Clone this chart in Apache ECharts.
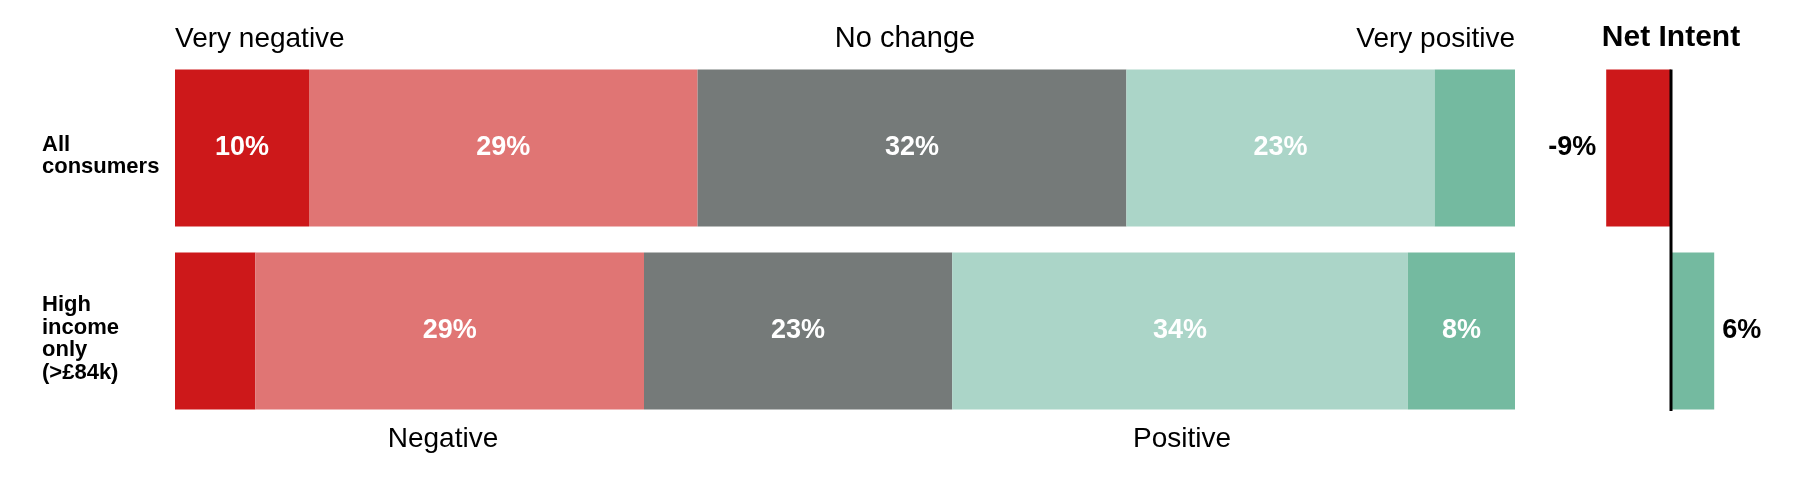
<!DOCTYPE html>
<html>
<head>
<meta charset="utf-8">
<script src="https://cdn.jsdelivr.net/npm/echarts@6/dist/echarts.min.js"></script>
<style>
  html, body { margin: 0; padding: 0; background: #fff; }
  #chart { width: 1800px; height: 495px; }
</style>
</head>
<body>
<div id="chart"></div>
<script>
// rows
const categories = ['All\nconsumers', 'High\nincome\nonly\n(>£84k)'];

// share of answers, %
const veryNegative = [10, 6];
const negative = [29, 29];
const noChange = [32, 23];
const positive = [23, 34];
const veryPositive = [6, 8];

// net intent, %
const netIntent = [-9, 6];

const FONT = '"Liberation Sans", Arial, sans-serif';
const BAR_W = 157;

const colors = {
    veryNegative: '#CD181A',
    negative: '#E07574',
    noChange: '#757A79',
    positive: '#ABD5C8',
    veryPositive: '#74BAA0'
};

// small segments get no label
function withLabels(values) {
    return values.map(v => ({ value: v, label: { show: v >= 7 } }));
}

function stackSeries(name, values, color) {
    return {
        name: name,
        type: 'bar',
        stack: 'total',
        xAxisIndex: 0,
        yAxisIndex: 0,
        barWidth: BAR_W,
        data: withLabels(values),
        itemStyle: { color: color },
        label: {
            position: 'inside',
            formatter: '{c}%',
            color: '#fff',
            fontFamily: FONT,
            fontWeight: 'bold',
            fontSize: 27
        },
        emphasis: { disabled: true }
    };
}

const chart = echarts.init(document.getElementById('chart'));

chart.setOption({
    animation: false,
    grid: [
        { left: 175, right: 285, top: 56.5, height: 366 },
        { left: 1599, width: 144, top: 56.5, height: 366 }
    ],
    xAxis: [
        { type: 'value', gridIndex: 0, min: 0, max: 100, show: false },
        { type: 'value', gridIndex: 1, min: -10, max: 10, show: false }
    ],
    yAxis: [
        {
            type: 'category',
            gridIndex: 0,
            data: categories,
            inverse: true,
            axisLine: { show: false },
            axisTick: { show: false },
            axisLabel: {
                align: 'left',
                margin: 133,
                color: '#000',
                fontFamily: FONT,
                fontWeight: 'bold',
                fontSize: 22,
                lineHeight: 22.5,
                // empty first line pushes the block a little lower
                formatter: v => '{gap| }\n' + v,
                rich: { gap: { fontSize: 1, lineHeight: 16 } }
            }
        },
        { type: 'category', gridIndex: 1, data: categories, inverse: true, show: false }
    ],
    series: [
        stackSeries('Very negative', veryNegative, colors.veryNegative),
        stackSeries('Negative', negative, colors.negative),
        stackSeries('No change', noChange, colors.noChange),
        stackSeries('Positive', positive, colors.positive),
        stackSeries('Very positive', veryPositive, colors.veryPositive),
        {
            name: 'Net Intent',
            type: 'bar',
            xAxisIndex: 1,
            yAxisIndex: 1,
            barWidth: BAR_W,
            data: netIntent.map(v => ({
                value: v,
                itemStyle: { color: v < 0 ? colors.veryNegative : colors.veryPositive },
                label: { position: v < 0 ? 'left' : 'right', distance: v < 0 ? 10 : 8 }
            })),
            label: {
                show: true,
                formatter: '{c}%',
                color: '#000',
                fontFamily: FONT,
                fontWeight: 'bold',
                fontSize: 27
            },
            emphasis: { disabled: true }
        }
    ]
});

// zero line of the net panel + header / footer texts
const zeroX = chart.convertToPixel({ xAxisIndex: 1 }, 0);
const topY = chart.convertToPixel({ yAxisIndex: 1 }, categories[0]) - BAR_W / 2;
const botY = chart.convertToPixel({ yAxisIndex: 1 }, categories[1]) + BAR_W / 2 + 1.5;

function txt(text, x, y, align, extra) {
    return {
        type: 'text',
        x: x,
        y: y,
        z: 100,
        style: Object.assign({
            text: text,
            fill: '#000',
            fontFamily: FONT,
            fontSize: 28,
            align: align,
            verticalAlign: 'middle'
        }, extra || {})
    };
}

chart.setOption({
    graphic: [
        {
            type: 'line',
            z: 100,
            shape: { x1: zeroX, y1: topY, x2: zeroX, y2: botY },
            style: { stroke: '#000', lineWidth: 3 }
        },
        txt('Very negative', 175, 39, 'left'),
        txt('No change', 905, 39, 'center', { fontSize: 29 }),
        txt('Very positive', 1515, 39, 'right'),
        txt('Net Intent', zeroX, 38, 'center', { fontWeight: 'bold', fontSize: 30 }),
        txt('Negative', 443, 439, 'center'),
        txt('Positive', 1182, 439, 'center')
    ]
});
</script>
</body>
</html>
